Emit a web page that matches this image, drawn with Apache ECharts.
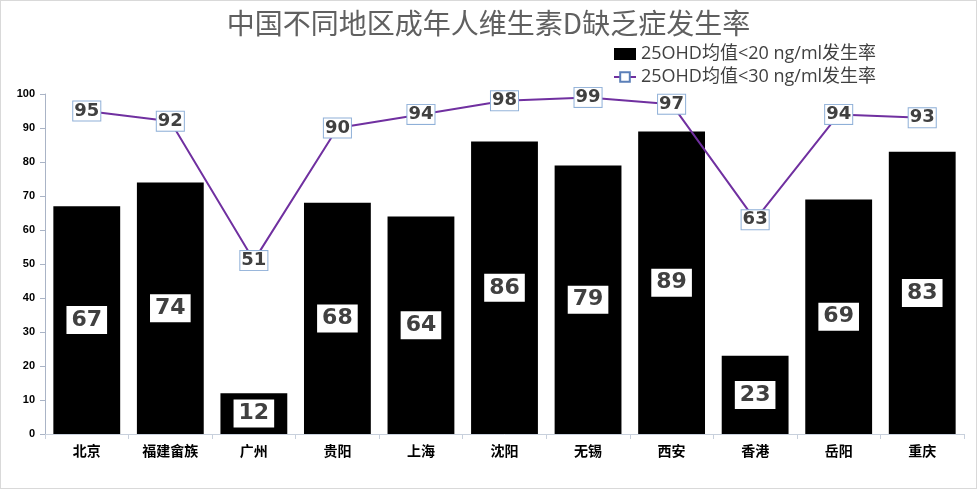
<!DOCTYPE html>
<html><head><meta charset="utf-8">
<script src="https://cdn.jsdelivr.net/npm/echarts@6/dist/echarts.min.js"></script>
<style>html,body{margin:0;padding:0;background:#fff}#c{width:975px;height:487px;border:1px solid #d9d9d9}</style>
</head><body><div id="c"></div>
<script>
const categories = ['北京','福建畲族','广州','贵阳','上海','沈阳','无锡','西安','香港','岳阳','重庆'];
const below20 = [67,74,12,68,64,86,79,89,23,69,83];
const below30 = [95,92,51,90,94,98,99,97,63,94,93];
const seriesNames = ['25OHD均值<20 ng/ml发生率','25OHD均值<30 ng/ml发生率'];
const chart = echarts.init(document.getElementById('c'));
chart.setOption({
  animation:false,
  title:{text:'中国不同地区成年人维生素D缺乏症发生率',left:'center',top:3,
    textStyle:{fontFamily:'Noto Sans CJK SC',fontWeight:'normal',fontSize:28,color:'#606060'}},
  legend:{orient:'vertical',left:607,top:39,itemGap:5,itemWidth:22,itemHeight:12,
    textStyle:{fontFamily:'Open Sans, Noto Sans CJK SC',fontSize:18,color:'#404040'},
    data:[{name:seriesNames[0],icon:'rect'},{name:seriesNames[1]}]},
  grid:{left:44,right:12,top:93,bottom:54},
  xAxis:{type:'category',data:categories,
    axisLine:{lineStyle:{color:'#c8d0dc'}},axisTick:{show:true,lineStyle:{color:'#c8d0dc'}},
    axisLabel:{fontFamily:'Noto Sans CJK SC',fontWeight:'bold',fontSize:14,color:'#000',margin:10}},
  yAxis:{type:'value',min:0,max:100,interval:10,
    axisLine:{show:true,lineStyle:{color:'#aab4c6'}},axisTick:{show:true,lineStyle:{color:'#aab4c6'}},
    splitLine:{show:false},
    axisLabel:{fontFamily:'Liberation Sans',fontWeight:'bold',fontSize:11,color:'#000',margin:10}},
  series:[
    {name:seriesNames[0],type:'bar',data:below20,barCategoryGap:'20%',
      itemStyle:{color:'#000'},
      label:{show:true,position:'inside',backgroundColor:'#fff',padding:[4,5,2,5],
        fontFamily:'DejaVu Sans',fontWeight:'bold',fontSize:22,color:'#404040'}},
    {name:seriesNames[1],type:'line',data:below30,symbol:'rect',symbolSize:8,
      lineStyle:{color:'#7030a0',width:2},itemStyle:{color:'#fff',borderColor:'#5b7fb8',borderWidth:1},
      label:{show:true,position:'inside',backgroundColor:'#fff',borderColor:'#8fb0d8',borderWidth:1,padding:[1,1,0,1],
        fontFamily:'DejaVu Sans',fontWeight:'bold',fontSize:18,color:'#404040'}}
  ]
});
</script></body></html>
